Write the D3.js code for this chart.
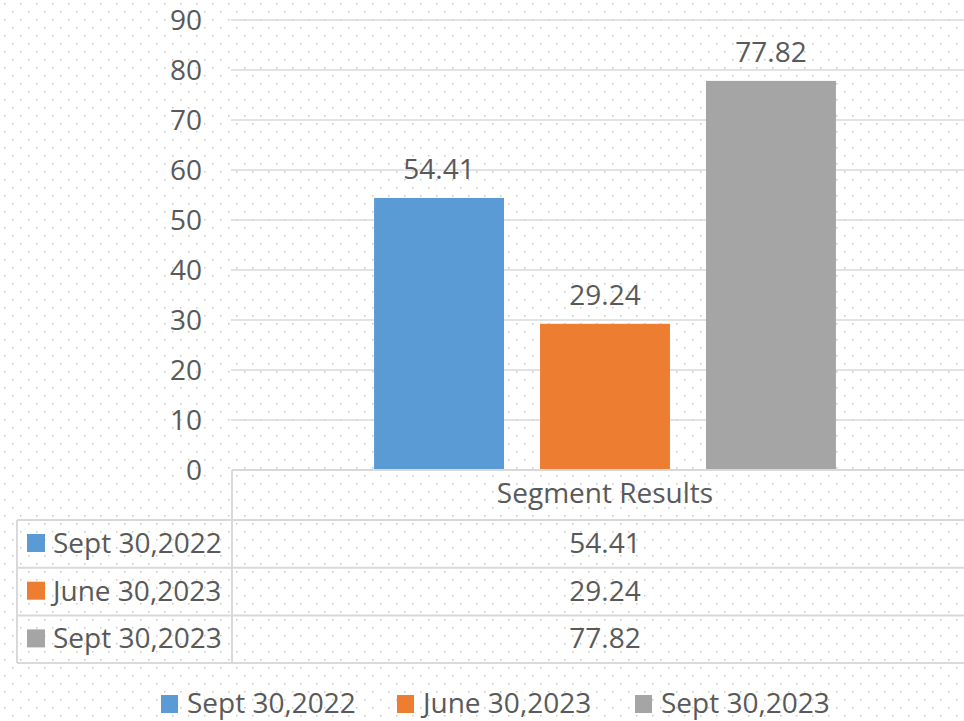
<!DOCTYPE html>
<html>
<head>
<meta charset="utf-8">
<script src="https://cdn.jsdelivr.net/npm/d3@7"></script>
<style>
  body { margin: 0; background: #fff; }
  text { font-family: "Open Sans", sans-serif; fill: #595959; }
</style>
</head>
<body>
<script>
// chart data
var category = ["Segment Results"];
var seriesNames = ["Sept 30,2022", "June 30,2023", "Sept 30,2023"];
var seriesValues = [54.41, 29.24, 77.82];
var colours = ["#5b9bd5", "#ed7d31", "#a5a5a5"];
var yTicks = [0, 10, 20, 30, 40, 50, 60, 70, 80, 90];

var W = 964, H = 721;
var fontSize = 28;

var svg = d3.select("body").append("svg")
    .attr("width", W).attr("height", H);

/* dotted background */
var defs = svg.append("defs");
var pat = defs.append("pattern")
    .attr("id", "dots").attr("patternUnits", "userSpaceOnUse")
    .attr("width", 16).attr("height", 16);
pat.append("rect").attr("x", 4).attr("y", 3).attr("width", 1.5).attr("height", 1.5).attr("fill", "#c8c8c8");
pat.append("rect").attr("x", 12).attr("y", 11).attr("width", 1.5).attr("height", 1.5).attr("fill", "#c8c8c8");
svg.append("rect").attr("width", W).attr("height", H).attr("fill", "url(#dots)");

var plotLeft = 233, plotRight = 977;
var y = d3.scaleLinear().domain([0, 90]).range([470, 20]);
var x0 = d3.scaleBand().domain(category).range([plotLeft, plotRight]);
var x1 = d3.scaleBand().domain(seriesNames).range([0, x0.bandwidth()])
    .paddingInner(0.217).paddingOuter(0.85);

// gridlines
svg.append("g").selectAll("line")
    .data(yTicks.filter(function(d) { return d > 0; }))
    .enter().append("line")
    .attr("x1", plotLeft - 2).attr("x2", W)
    .attr("y1", function(d) { return y(d); }).attr("y2", function(d) { return y(d); })
    .attr("stroke", "#d9d9d9").attr("stroke-width", 1.5);

// y axis labels
svg.append("g").selectAll("text")
    .data(yTicks).enter().append("text")
    .attr("x", 202).attr("y", function(d) { return y(d); })
    .attr("dy", "0.36em")
    .attr("text-anchor", "end")
    .attr("font-size", fontSize)
    .text(function(d) { return d; });

// bars
var bars = svg.append("g").attr("transform", "translate(" + x0(category[0]) + ",0)");
bars.selectAll("rect")
    .data(seriesValues).enter().append("rect")
    .attr("x", function(d, i) { return x1(seriesNames[i]); })
    .attr("y", function(d) { return y(d); })
    .attr("width", x1.bandwidth())
    .attr("height", function(d) { return y(0) - y(d); })
    .attr("fill", function(d, i) { return colours[i]; });

bars.selectAll("text")
    .data(seriesValues).enter().append("text")
    .attr("x", function(d, i) { return x1(seriesNames[i]) + x1.bandwidth() / 2; })
    .attr("y", function(d) { return y(d) - 19; })
    .attr("text-anchor", "middle")
    .attr("font-size", fontSize)
    .text(function(d) { return d.toFixed(2); });

/* data table under the chart */
var rowTop = y(0), headH = 50, rowH = 47.7, tableLeft = 17;
var tbl = svg.append("g");
var border = "#d9d9d9";
var tx = x0(category[0]) + x0.bandwidth() / 2;

tbl.append("text").attr("x", tx).attr("y", rowTop + 33)
    .attr("text-anchor", "middle").attr("font-size", fontSize).text(category[0]);

// horizontal lines
var hLines = [rowTop];
for (var i = 0; i <= seriesNames.length; i++) hLines.push(rowTop + headH + i * rowH);
tbl.selectAll("line.h").data(hLines).enter().append("line")
    .attr("class", "h")
    .attr("x1", function(d, i) { return i == 0 ? plotLeft - 1 : tableLeft; })
    .attr("x2", W)
    .attr("y1", function(d) { return d; }).attr("y2", function(d) { return d; })
    .attr("stroke", border).attr("stroke-width", 2);
// vertical lines
tbl.append("line").attr("x1", plotLeft - 1).attr("x2", plotLeft - 1)
    .attr("y1", rowTop).attr("y2", hLines[hLines.length - 1])
    .attr("stroke", border).attr("stroke-width", 2);
tbl.append("line").attr("x1", tableLeft).attr("x2", tableLeft)
    .attr("y1", rowTop + headH).attr("y2", hLines[hLines.length - 1])
    .attr("stroke", border).attr("stroke-width", 2);

var rows = tbl.selectAll("g.row").data(seriesNames).enter().append("g")
    .attr("class", "row")
    .attr("transform", function(d, i) { return "translate(0," + (rowTop + headH + i * rowH) + ")"; });
rows.append("rect").attr("x", 27).attr("y", 14).attr("width", 18).attr("height", 18)
    .attr("fill", function(d, i) { return colours[i]; });
rows.append("text").attr("x", 53).attr("y", 33).attr("font-size", fontSize)
    .text(function(d) { return d; });
rows.append("text").attr("x", tx).attr("y", 33).attr("text-anchor", "middle")
    .attr("font-size", fontSize)
    .text(function(d, i) { return seriesValues[i].toFixed(2); });

// legend
var legendX = [161, 397, 635];
var legend = svg.append("g").selectAll("g").data(seriesNames).enter().append("g")
    .attr("transform", function(d, i) { return "translate(" + legendX[i] + ",695)"; });
legend.append("rect").attr("width", 17).attr("height", 18)
    .attr("fill", function(d, i) { return colours[i]; });
legend.append("text").attr("x", 26).attr("y", 18).attr("font-size", fontSize)
    .text(function(d) { return d; });
</script>
</body>
</html>
